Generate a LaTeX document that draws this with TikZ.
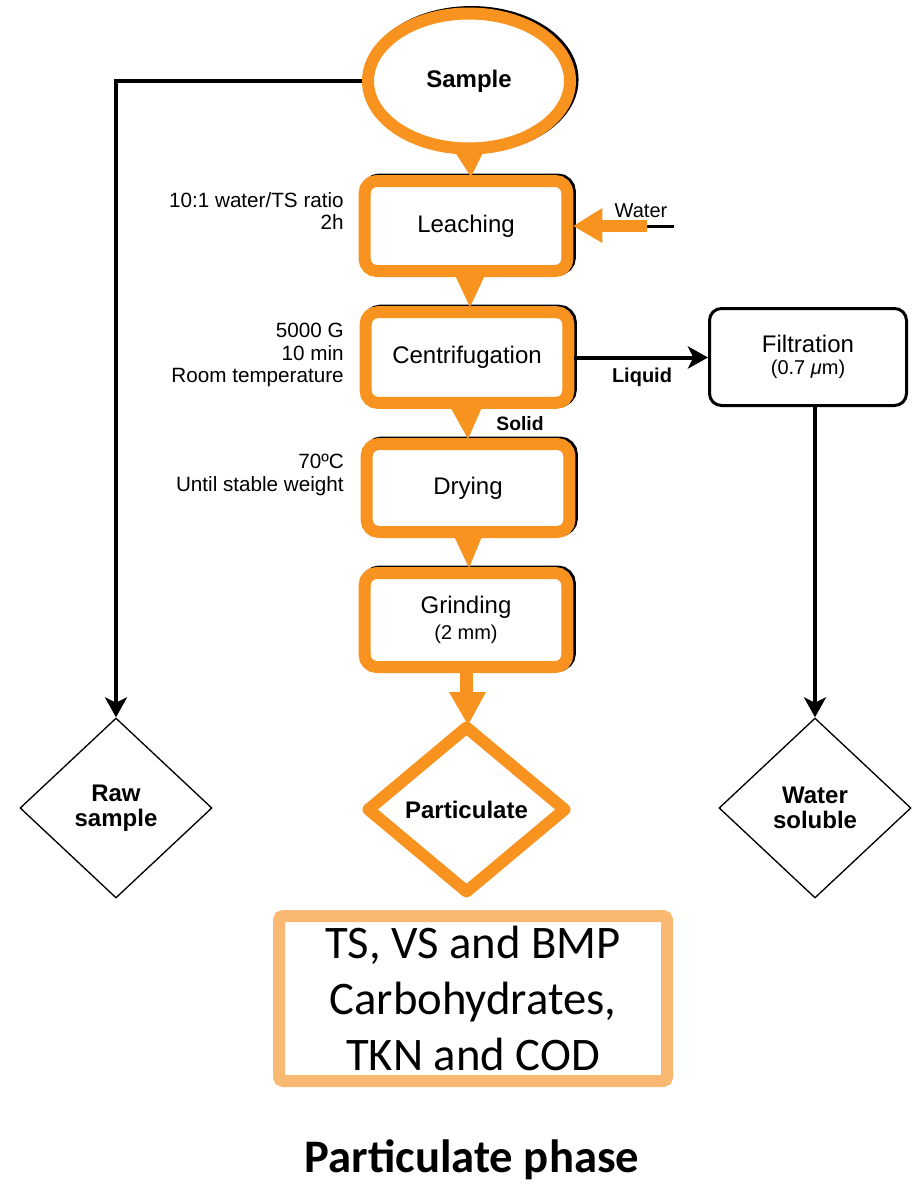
\documentclass[tikz,border=0pt]{standalone}
\usepackage{fontspec}
\setmainfont{Liberation Sans}
\newfontfamily\calibrifont{Carlito}
\usetikzlibrary{arrows.meta,shapes.geometric,calc,shadows}
\definecolor{procorange}{HTML}{F7931E}
\definecolor{lightorange}{HTML}{FAB973}
\begin{document}
\begin{tikzpicture}[
  x=0.75pt, y=-0.75pt,
  backshadow/.style={general shadow={draw=black, line width=9pt, shadow xshift=1.9pt, shadow yshift=1.1pt}},
  stepbox/.style={draw=procorange, line width=9pt, fill=white, rounded corners=9pt,
    inner sep=0pt, minimum width=152pt, align=center,
    font=\fontsize{18}{21}\selectfont, backshadow},
  endpoint/.style={diamond, draw=black, line width=1pt, fill=white, inner sep=0pt,
    minimum width=144pt, minimum height=135pt, align=center,
    font=\bfseries\fontsize{18}{19}\selectfont},
  note/.style={anchor=east, align=right, inner sep=0pt, font=\fontsize{15.5}{17}\selectfont},
  flowlabel/.style={inner sep=0pt, font=\bfseries\fontsize{15}{17}\selectfont},
  blackline/.style={draw=black, line width=3pt, -{Stealth[length=15pt,width=16.5pt,inset=4pt]}},
]
\useasboundingbox (0,0) rectangle (911,1184);

% main process chain
\node[ellipse, draw=procorange, line width=9pt, fill=white, inner sep=0pt,
      minimum width=151.5pt, minimum height=101.25pt,
      font=\bfseries\fontsize{18}{21}\selectfont, backshadow] (sample) at (469,81) {Sample};
\node[stepbox, minimum height=67.5pt] (leach) at (466,226) {\raisebox{-2pt}{Leaching}};
\node[stepbox, minimum height=68pt] (centrif) at (467,357.5) {\raisebox{-2pt}{Centrifugation}};
\node[stepbox, minimum height=66pt] (dry) at (468,488) {\raisebox{-3pt}{Drying}};
\node[stepbox, minimum height=70.5pt] (grind) at (466,620)
  {Grinding\\[-1pt]{\fontsize{15}{17}\selectfont (2 mm)}};
\node[diamond, draw=procorange, line width=9pt, line join=round, fill=white, inner sep=0pt,
      minimum width=150.75pt, minimum height=126.75pt,
      font=\bfseries\fontsize{18}{21}\selectfont] (part) at (466.5,809.5) {Particulate};

% side branches
\node[draw=black, line width=2.25pt, rounded corners=9pt, fill=white, inner sep=0pt,
      minimum width=147.75pt, minimum height=72.75pt, align=center,
      font=\fontsize{18}{21}\selectfont] (filt) at (808,357)
  {\raisebox{-3pt}{Filtration}\\[-2pt]{\fontsize{15}{17}\selectfont (0.7 \textit{μ}m)}};
\node[endpoint] (raw) at (116,808) {Raw\\sample};
\node[endpoint] (wsol) at (815,808) {Water\\soluble};

% orange flow arrows between steps
\fill[procorange] ($(sample.south)+(-15,-4)$) -- ($(sample.south)+(15,-4)$)
  -- ($(sample.south |- leach.north)+(2,2)$) -- cycle;
\fill[procorange] ($(leach.south)+(-12,-4)$) -- ($(leach.south)+(20,-4)$)
  -- ($(leach.south |- centrif.north)+(4,1)$) -- cycle;
\fill[procorange] ($(centrif.south)+(-18,-4)$) -- ($(centrif.south)+(16,-4)$)
  -- ($(centrif.south |- dry.north)+(1,1)$) -- cycle;
\fill[procorange] ($(dry.south)+(-15,-4)$) -- ($(dry.south)+(15,-4)$)
  -- ($(dry.south |- grind.north)+(1,1)$) -- cycle;
\fill[procorange] ($(grind.south)+(-6,-3)$) rectangle ($(grind.south)+(7,21)$);
\fill[procorange] ($(grind.south)+(-17,19)$) -- ($(grind.south)+(20,19)$)
  -- ($(grind.south |- part.north)+(2,6)$) -- cycle;

% water input
\coordinate (wjoin) at ($(leach.east)+(74,0)$);
\coordinate (wend) at ($(leach.east)+(101,0)$);
\draw[black, line width=2.25pt] (wend) -- (wjoin);
\draw[procorange, line width=9pt] (wjoin) -- ($(leach.east)+(27,0)$);
\fill[procorange] ($(leach.east)+(29,-18)$) -- ($(leach.east)+(29,17)$) -- (leach.east) -- cycle;
\node[inner sep=0pt, font=\fontsize{15}{17}\selectfont] (waterlbl) at (641,211) {Water};

% black connectors
\draw[blackline] (sample.west) -| (raw.north);
\draw[blackline] (centrif.east) -- (centrif.east -| filt.west);
\draw[blackline] (filt.south -| wsol.north) -- (wsol.north);

\node[flowlabel] (liquid) at (642,377) {Liquid};
\node[flowlabel, font=\bfseries\fontsize{14.5}{17}\selectfont] (solid) at (520,424) {Solid};

% process conditions
\node[note] (leachnote) at (344,211) {10:1 water/TS ratio\\2h};
\node[note] (centrifnote) at (344,355) {5000 G\\10 min\\Room temperature};
\node[note] (drynote) at (344,475) {70ºC\\Until stable weight};

% measured parameters
\node[draw=lightorange, line width=9pt, rounded corners=3pt, inner sep=0pt,
      minimum width=291pt, minimum height=123.75pt, align=center,
      font=\calibrifont\fontsize{35}{42}\selectfont] (results) at (473,998.5)
  {TS, VS and BMP\\Carbohydrates,\\TKN and COD};
\node[inner sep=0pt, font=\calibrifont\bfseries\fontsize{35}{42}\selectfont] (caption) at (472,1160)
  {Particulate phase};
\end{tikzpicture}
\end{document}
